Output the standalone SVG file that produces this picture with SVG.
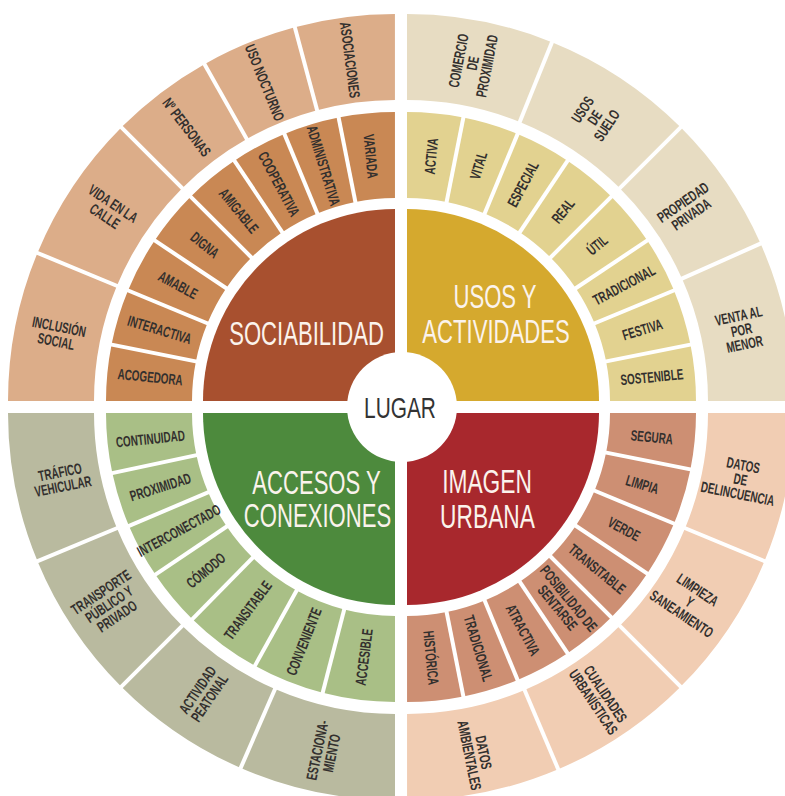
<svg xmlns="http://www.w3.org/2000/svg" width="785" height="796" viewBox="0 0 785 796">
<style>
.lbl{font-family:"Liberation Sans",Arial,sans-serif;font-weight:bold;font-size:15px;fill:#33302e;text-anchor:middle}
.big{font-family:"Liberation Sans",Arial,sans-serif;font-size:32.5px;fill:#fbf3ec;text-anchor:middle}
.ctr{font-family:"Liberation Sans",Arial,sans-serif;font-size:29px;fill:#333;text-anchor:middle}
circle.m{fill:none;stroke-width:86px}
circle.o{fill:none;stroke-width:86px}
.tl1{stroke:#c98854}.tl2{stroke:#dcad89}
.tr1{stroke:#e2d290}.tr2{stroke:#e7dcc2}
.bl1{stroke:#a9bf86}.bl2{stroke:#b9ba9f}
.br1{stroke:#cd8f73}.br2{stroke:#f1cdb3}
#dividers line{stroke:#fff;stroke-width:4}
</style>
<rect width="785" height="796" fill="#fff"/>

<!-- SOCIABILIDAD quadrant -->
<g id="sociabilidad">
<path d="M395,401 L203,401 A192,192 0 0 1 395,209 Z" fill="#a8502f"/>
<text class="big" transform="translate(306.5 345) scale(.68 1)">SOCIABILIDAD</text>
</g>
<g id="acogedora"><circle class="m tl1" cx="395" cy="401" r="246" pathLength="360" stroke-dasharray="11.25 360" transform="rotate(180 395 401)"/><text class="lbl" transform="translate(395 401) rotate(185.625) translate(246 0) rotate(180) scale(.66 1)" dy="5.3">ACOGEDORA</text></g>
<g id="interactiva"><circle class="m tl1" cx="395" cy="401" r="246" pathLength="360" stroke-dasharray="11.25 360" transform="rotate(191.25 395 401)"/><text class="lbl" transform="translate(395 401) rotate(196.875) translate(246 0) rotate(180) scale(.66 1)" dy="5.3">INTERACTIVA</text></g>
<g id="amable"><circle class="m tl1" cx="395" cy="401" r="246" pathLength="360" stroke-dasharray="11.25 360" transform="rotate(202.5 395 401)"/><text class="lbl" transform="translate(395 401) rotate(208.125) translate(246 0) rotate(180) scale(.66 1)" dy="5.3">AMABLE</text></g>
<g id="digna"><circle class="m tl1" cx="395" cy="401" r="246" pathLength="360" stroke-dasharray="11.25 360" transform="rotate(213.75 395 401)"/><text class="lbl" transform="translate(395 401) rotate(219.375) translate(246 0) rotate(180) scale(.66 1)" dy="5.3">DIGNA</text></g>
<g id="amigable"><circle class="m tl1" cx="395" cy="401" r="246" pathLength="360" stroke-dasharray="11.25 360" transform="rotate(225 395 401)"/><text class="lbl" transform="translate(395 401) rotate(230.625) translate(246 0) rotate(180) scale(.66 1)" dy="5.3">AMIGABLE</text></g>
<g id="cooperativa"><circle class="m tl1" cx="395" cy="401" r="246" pathLength="360" stroke-dasharray="11.25 360" transform="rotate(236.25 395 401)"/><text class="lbl" transform="translate(395 401) rotate(241.875) translate(246 0) rotate(180) scale(.66 1)" dy="5.3">COOPERATIVA</text></g>
<g id="administrativa"><circle class="m tl1" cx="395" cy="401" r="246" pathLength="360" stroke-dasharray="11.25 360" transform="rotate(247.5 395 401)"/><text class="lbl" transform="translate(395 401) rotate(253.125) translate(246 0) rotate(180) scale(.66 1)" dy="5.3">ADMINISTRATIVA</text></g>
<g id="variada"><circle class="m tl1" cx="395" cy="401" r="246" pathLength="360" stroke-dasharray="11.25 360" transform="rotate(258.75 395 401)"/><text class="lbl" transform="translate(395 401) rotate(264.375) translate(246 0) rotate(180) scale(.66 1)" dy="5.3">VARIADA</text></g>
<g id="inclusion-social"><circle class="o tl2" cx="395" cy="401" r="344" pathLength="360" stroke-dasharray="22.5 360" transform="rotate(180 395 401)"/><text class="lbl" transform="translate(395 401) rotate(191.25) translate(344 0) rotate(180) scale(.66 1)"><tspan x="0" dy="-2.2">INCLUSIÓN</tspan><tspan x="0" dy="15">SOCIAL</tspan></text></g>
<g id="vida-en-la-calle"><circle class="o tl2" cx="395" cy="401" r="344" pathLength="360" stroke-dasharray="22.5 360" transform="rotate(202.5 395 401)"/><text class="lbl" transform="translate(395 401) rotate(213.75) translate(344 0) rotate(180) scale(.66 1)"><tspan x="0" dy="-2.2">VIDA EN LA</tspan><tspan x="0" dy="15">CALLE</tspan></text></g>
<g id="n-personas"><circle class="o tl2" cx="395" cy="401" r="344" pathLength="360" stroke-dasharray="15.5 360" transform="rotate(225 395 401)"/><text class="lbl" transform="translate(395 401) rotate(232.75) translate(344 0) rotate(180) scale(.66 1)" dy="5.3">Nº PERSONAS</text></g>
<g id="uso-nocturno"><circle class="o tl2" cx="395" cy="401" r="344" pathLength="360" stroke-dasharray="14.5 360" transform="rotate(240.5 395 401)"/><text class="lbl" transform="translate(395 401) rotate(247.75) translate(344 0) rotate(180) scale(.66 1)" dy="5.3">USO NOCTURNO</text></g>
<g id="asociaciones"><circle class="o tl2" cx="395" cy="401" r="344" pathLength="360" stroke-dasharray="15 360" transform="rotate(255 395 401)"/><text class="lbl" transform="translate(395 401) rotate(262.5) translate(344 0) rotate(180) scale(.66 1)" dy="5.3">ASOCIACIONES</text></g>

<!-- USOS Y ACTIVIDADES quadrant -->
<g id="usos-actividades">
<path d="M407,401 L407,209 A192,192 0 0 1 599,401 Z" fill="#d5a92e"/>
<text class="big" transform="translate(495 308) scale(.68 1)">USOS Y</text>
<text class="big" transform="translate(496 343) scale(.68 1)">ACTIVIDADES</text>
</g>
<g id="activa"><circle class="m tr1" cx="407" cy="401" r="246" pathLength="360" stroke-dasharray="11.25 360" transform="rotate(270 407 401)"/><text class="lbl" transform="translate(407 401) rotate(275.625) translate(246 0) scale(.66 1)" dy="5.3">ACTIVA</text></g>
<g id="vital"><circle class="m tr1" cx="407" cy="401" r="246" pathLength="360" stroke-dasharray="11.25 360" transform="rotate(281.25 407 401)"/><text class="lbl" transform="translate(407 401) rotate(286.875) translate(246 0) scale(.66 1)" dy="5.3">VITAL</text></g>
<g id="especial"><circle class="m tr1" cx="407" cy="401" r="246" pathLength="360" stroke-dasharray="11.25 360" transform="rotate(292.5 407 401)"/><text class="lbl" transform="translate(407 401) rotate(298.125) translate(246 0) scale(.66 1)" dy="5.3">ESPECIAL</text></g>
<g id="real"><circle class="m tr1" cx="407" cy="401" r="246" pathLength="360" stroke-dasharray="11.25 360" transform="rotate(303.75 407 401)"/><text class="lbl" transform="translate(407 401) rotate(309.375) translate(246 0) scale(.66 1)" dy="5.3">REAL</text></g>
<g id="util"><circle class="m tr1" cx="407" cy="401" r="246" pathLength="360" stroke-dasharray="11.25 360" transform="rotate(315 407 401)"/><text class="lbl" transform="translate(407 401) rotate(320.625) translate(246 0) scale(.66 1)" dy="5.3">ÚTIL</text></g>
<g id="tradicional-usos"><circle class="m tr1" cx="407" cy="401" r="246" pathLength="360" stroke-dasharray="11.25 360" transform="rotate(326.25 407 401)"/><text class="lbl" transform="translate(407 401) rotate(331.875) translate(246 0) scale(.66 1)" dy="5.3">TRADICIONAL</text></g>
<g id="festiva"><circle class="m tr1" cx="407" cy="401" r="246" pathLength="360" stroke-dasharray="11.25 360" transform="rotate(337.5 407 401)"/><text class="lbl" transform="translate(407 401) rotate(343.125) translate(246 0) scale(.66 1)" dy="5.3">FESTIVA</text></g>
<g id="sostenible"><circle class="m tr1" cx="407" cy="401" r="246" pathLength="360" stroke-dasharray="11.25 360" transform="rotate(348.75 407 401)"/><text class="lbl" transform="translate(407 401) rotate(354.375) translate(246 0) scale(.66 1)" dy="5.3">SOSTENIBLE</text></g>
<g id="comercio"><circle class="o tr2" cx="407" cy="401" r="344" pathLength="360" stroke-dasharray="22 360" transform="rotate(270 407 401)"/><text class="lbl" transform="translate(407 401) rotate(281) translate(344 0) scale(.66 1)"><tspan x="0" dy="-9.2">COMERCIO</tspan><tspan x="0" dy="14.5">DE</tspan><tspan x="0" dy="14.5">PROXIMIDAD</tspan></text></g>
<g id="usos-de-suelo"><circle class="o tr2" cx="407" cy="401" r="344" pathLength="360" stroke-dasharray="23 360" transform="rotate(292 407 401)"/><text class="lbl" transform="translate(407 401) rotate(303.5) translate(340 0) scale(.66 1)"><tspan x="0" dy="-9.2">USOS</tspan><tspan x="0" dy="14.5">DE</tspan><tspan x="0" dy="14.5">SUELO</tspan></text></g>
<g id="propiedad-privada"><circle class="o tr2" cx="407" cy="401" r="344" pathLength="360" stroke-dasharray="21 360" transform="rotate(315 407 401)"/><text class="lbl" transform="translate(407 401) rotate(325.5) translate(340 0) scale(.66 1)"><tspan x="0" dy="-2.2">PROPIEDAD</tspan><tspan x="0" dy="14.5">PRIVADA</tspan></text></g>
<g id="venta-al-por-menor"><circle class="o tr2" cx="407" cy="401" r="344" pathLength="360" stroke-dasharray="24 360" transform="rotate(336 407 401)"/><text class="lbl" transform="translate(407 401) rotate(348) translate(342 0) scale(.66 1)"><tspan x="0" dy="-9.2">VENTA AL</tspan><tspan x="0" dy="14.5">POR</tspan><tspan x="0" dy="14.5">MENOR</tspan></text></g>

<!-- ACCESOS Y CONEXIONES quadrant -->
<g id="accesos-conexiones">
<path d="M395,413 L395,605 A192,192 0 0 1 203,413 Z" fill="#4d8a3d"/>
<text class="big" transform="translate(316.5 494) scale(.68 1)">ACCESOS Y</text>
<text class="big" transform="translate(317.5 527) scale(.68 1)">CONEXIONES</text>
</g>
<g id="continuidad"><circle class="m bl1" cx="395" cy="413" r="246" pathLength="360" stroke-dasharray="12 360" transform="rotate(168 395 413)"/><text class="lbl" transform="translate(395 413) rotate(174) translate(246 0) rotate(180) scale(.66 1)" dy="5.3">CONTINUIDAD</text></g>
<g id="proximidad"><circle class="m bl1" cx="395" cy="413" r="246" pathLength="360" stroke-dasharray="11 360" transform="rotate(157 395 413)"/><text class="lbl" transform="translate(395 413) rotate(162.5) translate(246 0) rotate(180) scale(.66 1)" dy="5.3">PROXIMIDAD</text></g>
<g id="interconectado"><circle class="m bl1" cx="395" cy="413" r="246" pathLength="360" stroke-dasharray="11 360" transform="rotate(146 395 413)"/><text class="lbl" transform="translate(395 413) rotate(151.5) translate(246 0) rotate(180) scale(.66 1)" dy="5.3">INTERCONECTADO</text></g>
<g id="comodo"><circle class="m bl1" cx="395" cy="413" r="246" pathLength="360" stroke-dasharray="11.5 360" transform="rotate(134.5 395 413)"/><text class="lbl" transform="translate(395 413) rotate(140.25) translate(246 0) rotate(180) scale(.66 1)" dy="5.3">CÓMODO</text></g>
<g id="transitable-accesos"><circle class="m bl1" cx="395" cy="413" r="246" pathLength="360" stroke-dasharray="15.5 360" transform="rotate(119 395 413)"/><text class="lbl" transform="translate(395 413) rotate(126.75) translate(246 0) rotate(180) scale(.66 1)" dy="5.3">TRANSITABLE</text></g>
<g id="conveniente"><circle class="m bl1" cx="395" cy="413" r="246" pathLength="360" stroke-dasharray="14.5 360" transform="rotate(104.5 395 413)"/><text class="lbl" transform="translate(395 413) rotate(111.75) translate(246 0) rotate(180) scale(.66 1)" dy="5.3">CONVENIENTE</text></g>
<g id="accesible"><circle class="m bl1" cx="395" cy="413" r="246" pathLength="360" stroke-dasharray="14.5 360" transform="rotate(90 395 413)"/><text class="lbl" transform="translate(395 413) rotate(97.25) translate(246 0) rotate(180) scale(.66 1)" dy="5.3">ACCESIBLE</text></g>
<g id="trafico-vehicular"><circle class="o bl2" cx="395" cy="413" r="344" pathLength="360" stroke-dasharray="22.5 360" transform="rotate(157.5 395 413)"/><text class="lbl" transform="translate(395 413) rotate(168.75) translate(340 0) rotate(180) scale(.66 1)"><tspan x="0" dy="-2.2">TRÁFICO</tspan><tspan x="0" dy="14.5">VEHICULAR</tspan></text></g>
<g id="transporte"><circle class="o bl2" cx="395" cy="413" r="344" pathLength="360" stroke-dasharray="22.5 360" transform="rotate(135 395 413)"/><text class="lbl" transform="translate(395 413) rotate(146.25) translate(344 0) rotate(180) scale(.66 1)"><tspan x="0" dy="-9.2">TRANSPORTE</tspan><tspan x="0" dy="14.5">PÚBLICO Y</tspan><tspan x="0" dy="14.5">PRIVADO</tspan></text></g>
<g id="actividad-peatonal"><circle class="o bl2" cx="395" cy="413" r="344" pathLength="360" stroke-dasharray="21.5 360" transform="rotate(113.5 395 413)"/><text class="lbl" transform="translate(395 413) rotate(124.25) translate(340 0) rotate(180) scale(.66 1)"><tspan x="0" dy="-2.2">ACTIVIDAD</tspan><tspan x="0" dy="14.5">PEATONAL</tspan></text></g>
<g id="estacionamiento"><circle class="o bl2" cx="395" cy="413" r="344" pathLength="360" stroke-dasharray="23.5 360" transform="rotate(90 395 413)"/><text class="lbl" transform="translate(395 413) rotate(101.75) translate(346 0) rotate(180) scale(.66 1)"><tspan x="0" dy="-2.2">ESTACIONA-</tspan><tspan x="0" dy="14.5">MIENTO</tspan></text></g>

<!-- IMAGEN URBANA quadrant -->
<g id="imagen-urbana">
<path d="M407,413 L599,413 A192,192 0 0 1 407,605 Z" fill="#a8282d"/>
<text class="big" transform="translate(487 493) scale(.7 1)">IMAGEN</text>
<text class="big" transform="translate(487.5 528) scale(.7 1)">URBANA</text>
</g>
<g id="segura"><circle class="m br1" cx="407" cy="413" r="246" pathLength="360" stroke-dasharray="11.25 360"/><text class="lbl" transform="translate(407 413) rotate(5.625) translate(246 0) scale(.66 1)" dy="5.3">SEGURA</text></g>
<g id="limpia"><circle class="m br1" cx="407" cy="413" r="246" pathLength="360" stroke-dasharray="11.25 360" transform="rotate(11.25 407 413)"/><text class="lbl" transform="translate(407 413) rotate(16.875) translate(246 0) scale(.66 1)" dy="5.3">LIMPIA</text></g>
<g id="verde"><circle class="m br1" cx="407" cy="413" r="246" pathLength="360" stroke-dasharray="11.25 360" transform="rotate(22.5 407 413)"/><text class="lbl" transform="translate(407 413) rotate(28.125) translate(246 0) scale(.66 1)" dy="5.3">VERDE</text></g>
<g id="transitable-imagen"><circle class="m br1" cx="407" cy="413" r="246" pathLength="360" stroke-dasharray="11.25 360" transform="rotate(33.75 407 413)"/><text class="lbl" transform="translate(407 413) rotate(39.375) translate(246 0) scale(.66 1)" dy="5.3">TRANSITABLE</text></g>
<g id="posibilidad-de-sentarse"><circle class="m br1" cx="407" cy="413" r="246" pathLength="360" stroke-dasharray="11.25 360" transform="rotate(45 407 413)"/><text class="lbl" transform="translate(407 413) rotate(50.625) translate(246 0) scale(.66 1)"><tspan x="0" dy="-2.2">POSIBILIDAD DE</tspan><tspan x="0" dy="14.5">SENTARSE</tspan></text></g>
<g id="atractiva"><circle class="m br1" cx="407" cy="413" r="246" pathLength="360" stroke-dasharray="11.25 360" transform="rotate(56.25 407 413)"/><text class="lbl" transform="translate(407 413) rotate(61.875) translate(246 0) scale(.66 1)" dy="5.3">ATRACTIVA</text></g>
<g id="tradicional-imagen"><circle class="m br1" cx="407" cy="413" r="246" pathLength="360" stroke-dasharray="11.25 360" transform="rotate(67.5 407 413)"/><text class="lbl" transform="translate(407 413) rotate(73.125) translate(246 0) scale(.66 1)" dy="5.3">TRADICIONAL</text></g>
<g id="historica"><circle class="m br1" cx="407" cy="413" r="246" pathLength="360" stroke-dasharray="11.25 360" transform="rotate(78.75 407 413)"/><text class="lbl" transform="translate(407 413) rotate(84.375) translate(246 0) scale(.66 1)" dy="5.3">HISTÓRICA</text></g>
<g id="datos-delincuencia"><circle class="o br2" cx="407" cy="413" r="344" pathLength="360" stroke-dasharray="22.5 360"/><text class="lbl" transform="translate(407 413) rotate(11.25) translate(340 0) scale(.66 1)"><tspan x="0" dy="-9.2">DATOS</tspan><tspan x="0" dy="14.5">DE</tspan><tspan x="0" dy="14.5">DELINCUENCIA</tspan></text></g>
<g id="limpieza-saneamiento"><circle class="o br2" cx="407" cy="413" r="344" pathLength="360" stroke-dasharray="22.5 360" transform="rotate(22.5 407 413)"/><text class="lbl" transform="translate(407 413) rotate(33.75) translate(340 0) scale(.66 1)"><tspan x="0" dy="-9.2">LIMPIEZA</tspan><tspan x="0" dy="14.5">Y</tspan><tspan x="0" dy="14.5">SANEAMIENTO</tspan></text></g>
<g id="cualidades-urbanisticas"><circle class="o br2" cx="407" cy="413" r="344" pathLength="360" stroke-dasharray="22 360" transform="rotate(45 407 413)"/><text class="lbl" transform="translate(407 413) rotate(56) translate(344 0) scale(.66 1)"><tspan x="0" dy="-2.2">CUALIDADES</tspan><tspan x="0" dy="14.5">URBANÍSTICAS</tspan></text></g>
<g id="datos-ambientales"><circle class="o br2" cx="407" cy="413" r="344" pathLength="360" stroke-dasharray="23 360" transform="rotate(67 407 413)"/><text class="lbl" transform="translate(407 413) rotate(78.5) translate(348 0) scale(.66 1)"><tspan x="0" dy="-2.2">DATOS</tspan><tspan x="0" dy="14.5">AMBIENTALES</tspan></text></g>

<!-- segment dividers -->
<g id="dividers">
<line x1="593" y1="401" x2="689" y2="401" transform="rotate(191.25 395 401)"/>
<line x1="593" y1="401" x2="689" y2="401" transform="rotate(202.5 395 401)"/>
<line x1="593" y1="401" x2="689" y2="401" transform="rotate(213.75 395 401)"/>
<line x1="593" y1="401" x2="689" y2="401" transform="rotate(225 395 401)"/>
<line x1="593" y1="401" x2="689" y2="401" transform="rotate(236.25 395 401)"/>
<line x1="593" y1="401" x2="689" y2="401" transform="rotate(247.5 395 401)"/>
<line x1="593" y1="401" x2="689" y2="401" transform="rotate(258.75 395 401)"/>
<line x1="691" y1="401" x2="789" y2="401" transform="rotate(202.5 395 401)"/>
<line x1="691" y1="401" x2="789" y2="401" transform="rotate(225 395 401)"/>
<line x1="691" y1="401" x2="789" y2="401" transform="rotate(240.5 395 401)"/>
<line x1="691" y1="401" x2="789" y2="401" transform="rotate(255 395 401)"/>
<line x1="605" y1="401" x2="701" y2="401" transform="rotate(281.25 407 401)"/>
<line x1="605" y1="401" x2="701" y2="401" transform="rotate(292.5 407 401)"/>
<line x1="605" y1="401" x2="701" y2="401" transform="rotate(303.75 407 401)"/>
<line x1="605" y1="401" x2="701" y2="401" transform="rotate(315 407 401)"/>
<line x1="605" y1="401" x2="701" y2="401" transform="rotate(326.25 407 401)"/>
<line x1="605" y1="401" x2="701" y2="401" transform="rotate(337.5 407 401)"/>
<line x1="605" y1="401" x2="701" y2="401" transform="rotate(348.75 407 401)"/>
<line x1="703" y1="401" x2="801" y2="401" transform="rotate(292 407 401)"/>
<line x1="703" y1="401" x2="801" y2="401" transform="rotate(315 407 401)"/>
<line x1="703" y1="401" x2="801" y2="401" transform="rotate(336 407 401)"/>
<line x1="605" y1="413" x2="701" y2="413" transform="rotate(11.25 407 413)"/>
<line x1="605" y1="413" x2="701" y2="413" transform="rotate(22.5 407 413)"/>
<line x1="605" y1="413" x2="701" y2="413" transform="rotate(33.75 407 413)"/>
<line x1="605" y1="413" x2="701" y2="413" transform="rotate(45 407 413)"/>
<line x1="605" y1="413" x2="701" y2="413" transform="rotate(56.25 407 413)"/>
<line x1="605" y1="413" x2="701" y2="413" transform="rotate(67.5 407 413)"/>
<line x1="605" y1="413" x2="701" y2="413" transform="rotate(78.75 407 413)"/>
<line x1="703" y1="413" x2="801" y2="413" transform="rotate(22.5 407 413)"/>
<line x1="703" y1="413" x2="801" y2="413" transform="rotate(45 407 413)"/>
<line x1="703" y1="413" x2="801" y2="413" transform="rotate(67 407 413)"/>
<line x1="593" y1="413" x2="689" y2="413" transform="rotate(168 395 413)"/>
<line x1="593" y1="413" x2="689" y2="413" transform="rotate(157 395 413)"/>
<line x1="593" y1="413" x2="689" y2="413" transform="rotate(146 395 413)"/>
<line x1="593" y1="413" x2="689" y2="413" transform="rotate(134.5 395 413)"/>
<line x1="593" y1="413" x2="689" y2="413" transform="rotate(119 395 413)"/>
<line x1="593" y1="413" x2="689" y2="413" transform="rotate(104.5 395 413)"/>
<line x1="691" y1="413" x2="789" y2="413" transform="rotate(157.5 395 413)"/>
<line x1="691" y1="413" x2="789" y2="413" transform="rotate(135 395 413)"/>
<line x1="691" y1="413" x2="789" y2="413" transform="rotate(113.5 395 413)"/>
</g>

<!-- centre -->
<g id="lugar">
<circle cx="402" cy="407" r="55" fill="#fff"/>
<text class="ctr" transform="translate(400 418) scale(.72 1)">LUGAR</text>
</g>
</svg>
